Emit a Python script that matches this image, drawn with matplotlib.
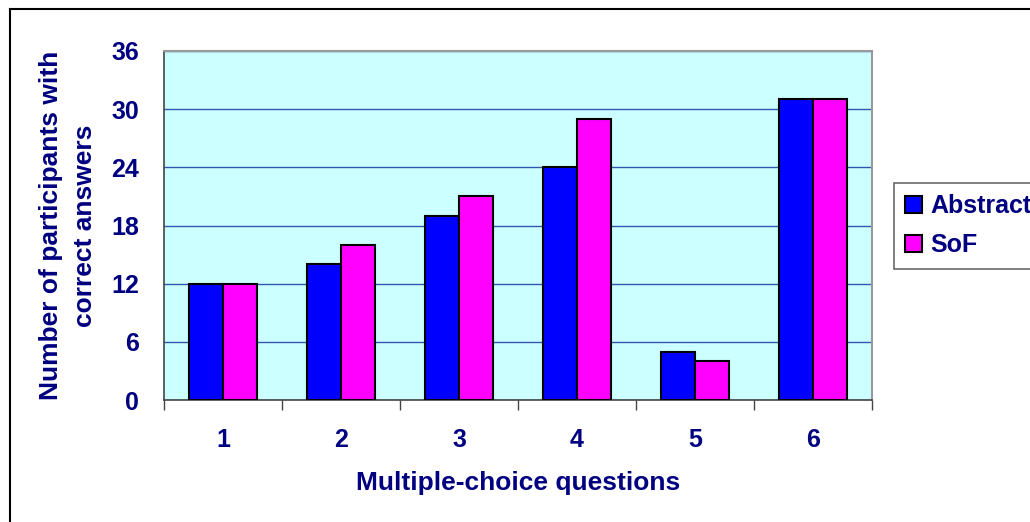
import numpy as np
import matplotlib.pyplot as plt
from matplotlib.lines import Line2D

questions = ['1', '2', '3', '4', '5', '6']
abstract = [12, 14, 19, 24, 5, 31]
sof = [12, 16, 21, 29, 4, 31]

navy = '#000080'
plt.rcParams['font.family'] = ['Liberation Sans', 'DejaVu Sans']
plt.rcParams['font.weight'] = 'bold'

fig = plt.figure(figsize=(10.30, 5.22), dpi=100)
ax = fig.add_axes([164/1030, 1 - 400/522, (872-164)/1030, (400-51)/522])
ax.set_facecolor('#ccffff')

x = np.arange(len(questions))
w = 0.29
ax.bar(x - w/2, abstract, w, color='#0000ff', edgecolor='black', linewidth=1.5, label='Abstract', zorder=3)
ax.bar(x + w/2, sof, w, color='#ff00ff', edgecolor='black', linewidth=1.5, label='SoF', zorder=3)

ax.set_xlim(-0.5, len(questions) - 0.5)
ax.set_ylim(0, 36)
ax.set_yticks(np.arange(0, 37, 6))
ax.yaxis.grid(True, color='#3355aa', linewidth=1, zorder=1)
ax.set_axisbelow(True)

ax.set_xticks(x)
ax.set_xticklabels(questions)
ax.set_xticks(np.arange(-0.5, len(questions)), minor=True)
ax.tick_params(axis='x', which='major', length=0, pad=20, labelsize=18, labelcolor=navy)
ax.tick_params(axis='x', which='minor', length=7, width=1, color='#444444', direction='out')
ax.tick_params(axis='y', length=0, pad=18, labelsize=18, labelcolor=navy)

for side in ['left', 'bottom']:
    ax.spines[side].set_color('#444444')
    ax.spines[side].set_linewidth(1.2)
for side in ['top', 'right']:
    ax.spines[side].set_color('#999999')
    ax.spines[side].set_linewidth(1.5)

ax.set_xlabel('Multiple-choice questions', fontsize=19, color=navy, fontweight='bold', labelpad=14)
ax.set_ylabel('Number of participants with\ncorrect answers', fontsize=19, color=navy,
              fontweight='bold', labelpad=10, linespacing=1.55)

leg = fig.legend(loc='upper left', bbox_to_anchor=(894/1030, 1 - 183/522), fontsize=18,
                 frameon=True, fancybox=False, edgecolor='#444444', handlelength=0.65,
                 handleheight=0.65, handletextpad=0.35, borderpad=0.45, labelspacing=0.6,
                 borderaxespad=0)
leg.get_frame().set_linewidth(1.2)
for t in leg.get_texts():
    t.set_color(navy)

# outer chart border (only left and top visible)
fig.add_artist(Line2D([10/1030, 10/1030], [0, 1 - 9/522], color='black', linewidth=1.5))
fig.add_artist(Line2D([10/1030, 1], [1 - 9/522, 1 - 9/522], color='black', linewidth=1.5))

fig.savefig('out.png', dpi=100)
